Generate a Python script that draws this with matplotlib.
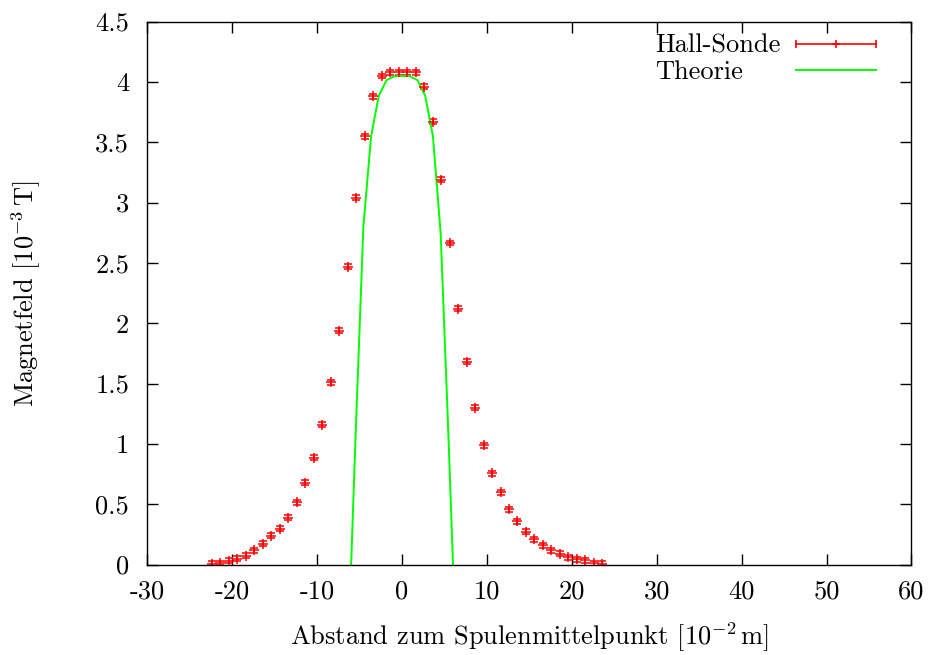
import numpy as np
import matplotlib
matplotlib.use("Agg")
import matplotlib.pyplot as plt
from matplotlib.lines import Line2D
from matplotlib.legend_handler import HandlerBase

plt.rcParams['font.family'] = 'serif'
plt.rcParams['font.serif'] = ['cmr10']
plt.rcParams['mathtext.fontset'] = 'cm'
plt.rcParams['axes.unicode_minus'] = False

# --- Messwerte Hall-Sonde ---
x_hall = [-22.4, -21.4, -20.4, -19.4, -18.4, -17.4, -16.4, -15.4, -14.4, -13.4,
          -12.4, -11.4, -10.4, -9.4, -8.4, -7.4, -6.4, -5.4, -4.4, -3.4,
          -2.4, -1.4, -0.4, 0.6, 1.6, 2.6, 3.6, 4.6, 5.6, 6.6,
          7.6, 8.6, 9.6, 10.6, 11.6, 12.6, 13.6, 14.6, 15.6, 16.6,
          17.6, 18.6, 19.6, 20.6, 21.6, 22.6, 23.6]
B_hall = [0.006, 0.014, 0.033, 0.050, 0.075, 0.119, 0.172, 0.238, 0.299, 0.390,
          0.517, 0.680, 0.887, 1.158, 1.510, 1.940, 2.470, 3.040, 3.550, 3.880,
          4.050, 4.080, 4.080, 4.080, 4.080, 3.960, 3.670, 3.190, 2.665, 2.120,
          1.680, 1.300, 0.990, 0.758, 0.600, 0.459, 0.358, 0.271, 0.210, 0.161,
          0.119, 0.089, 0.061, 0.045, 0.036, 0.012, 0.006]
B_err = 0.02

# --- Theorie (Stützstellen) ---
x_theo = [-6.36, -5.45, -4.55, -3.64, -2.73, -1.82, -0.91, 0.0,
          0.91, 1.82, 2.73, 3.64, 4.55, 5.45, 6.36]
B_theo = [-0.75, 1.10, 2.80, 3.55, 3.886, 4.015, 4.047, 4.050,
          4.047, 4.015, 3.886, 3.55, 2.75, 1.10, -0.70]

x_ticks = [-30, -20, -10, 0, 10, 20, 30, 40, 50, 60]
y_ticks = [0, 0.5, 1, 1.5, 2, 2.5, 3, 3.5, 4, 4.5]
y_ticklabels = ['0', '0.5', '1', '1.5', '2', '2.5', '3', '3.5', '4', '4.5']

fs = 19


class HandlerGnuErr(HandlerBase):
    """Legendensymbol wie bei gnuplot: waagrechter Balken mit Enden und +."""
    def create_artists(self, legend, orig_handle, xdescent, ydescent,
                       width, height, fontsize, trans):
        y = height / 2 - ydescent
        bar = Line2D([-xdescent, width - xdescent], [y, y], color='red', lw=1.2,
                     marker='|', markersize=6, markeredgewidth=1.2)
        mid = Line2D([(width - 2 * xdescent) / 2], [y], color='red', lw=0,
                     marker='+', markersize=6, markeredgewidth=1.2)
        bar.set_transform(trans)
        mid.set_transform(trans)
        return [bar, mid]


fig = plt.figure(figsize=(9.32, 6.55), dpi=100)
ax = fig.add_axes([0.158, 0.138, 0.820, 0.829])

h_hall = ax.errorbar(x_hall, B_hall, yerr=B_err, fmt='+', color='red', ms=7,
                     mew=1.1, elinewidth=1.1, capsize=3.2, capthick=1.1)
h_theo, = ax.plot(x_theo, B_theo, color='#00ff00', lw=1.4)

ax.set_xlim(-30, 60)
ax.set_ylim(0, 4.5)
ax.set_xticks(x_ticks)
ax.set_xticklabels([str(t) for t in x_ticks])
ax.set_yticks(y_ticks)
ax.set_yticklabels(y_ticklabels)
ax.tick_params(direction='in', length=8, width=1, top=True, right=True,
               labelsize=fs)
ax.tick_params(axis='x', pad=11)
ax.tick_params(axis='y', pad=13)
for s in ax.spines.values():
    s.set_linewidth(1.0)

ax.set_xlabel(r'Abstand zum Spulenmittelpunkt [$10^{-2}\,$m]', fontsize=fs, labelpad=12)
ax.set_ylabel(r'Magnetfeld [$10^{-3}\,$T]', fontsize=fs, labelpad=38)

leg = ax.legend([h_hall, h_theo], ['Hall-Sonde', 'Theorie'], loc='upper right',
                bbox_to_anchor=(0.953, 0.977), frameon=False, markerfirst=False,
                fontsize=fs, handlelength=3.0, handletextpad=0.6, labelspacing=0.1,
                borderaxespad=0, borderpad=0,
                handler_map={type(h_hall): HandlerGnuErr()})

# Texte linksbündig wie bei gnuplot
fig.canvas.draw()
txts = leg.get_texts()
w0 = txts[0].get_window_extent().width
for t in txts[1:]:
    t.set_x(-(w0 - t.get_window_extent().width))

fig.savefig('out.png', dpi=100)
